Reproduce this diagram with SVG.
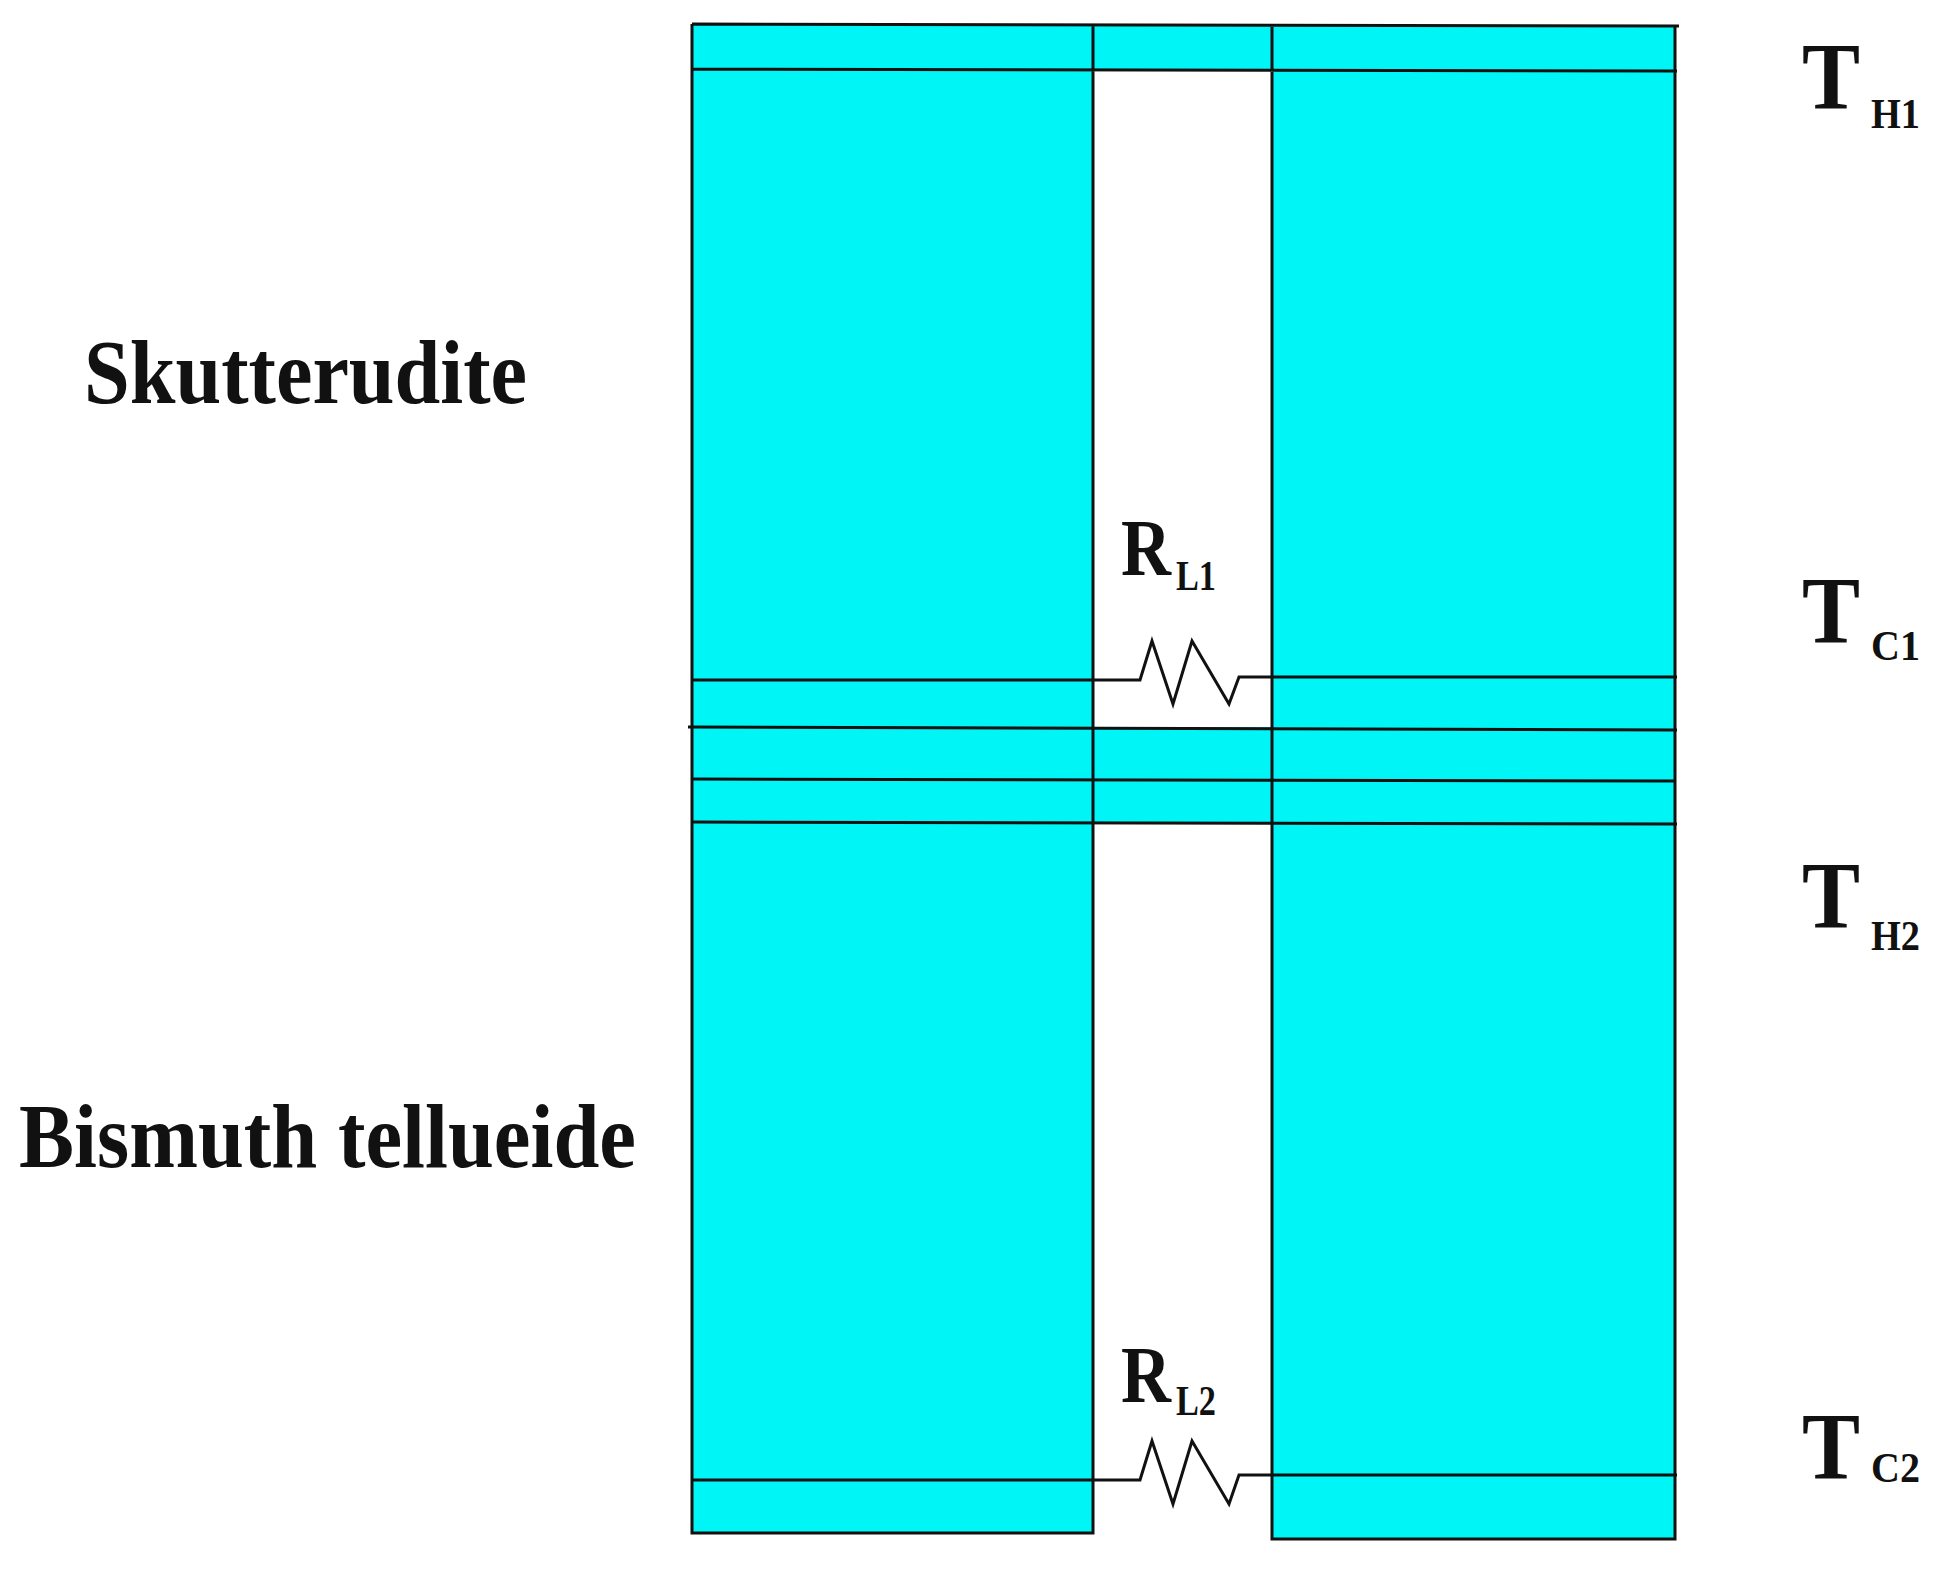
<svg xmlns="http://www.w3.org/2000/svg" width="1946" height="1572" viewBox="0 0 1946 1572">
<style>
.c{fill:#00f6f6;stroke:none}
.l{stroke:#111;stroke-width:3;fill:none}
.t{font-family:"Liberation Serif",serif;font-weight:bold;fill:#111}
</style>
<rect width="1946" height="1572" fill="#fff"/>
<g id="fills">
<rect class="c" x="692" y="25" width="983" height="44"/>
<rect class="c" x="692" y="69" width="401" height="1464"/>
<rect class="c" x="1272" y="69" width="403" height="1470"/>
<rect class="c" x="1093" y="727" width="179" height="95"/>
</g>
<g id="connectors">
<path class="l" d="M692 24 L1679 26 M692 69 L1677 71 M692 24 V1533 H1093 V24 M1272 24 V1539 H1675 V26"/>
<path class="l" d="M692 680 H1093 L1140 680 L1152 641 L1173 704 L1192 641 L1229 704 L1239 677 H1272 H1677"/>
<path class="l" d="M688 727 L1677 730 M692 779 L1675 781 M692 822 L1677 824"/>
<path class="l" d="M692 1480 H1093 L1140 1480 L1152 1441 L1173 1504 L1192 1441 L1229 1504 L1239 1475 H1677"/>
</g>
<g id="labels">
<text class="t" x="84" y="403" font-size="92" textLength="443" lengthAdjust="spacingAndGlyphs">Skutterudite</text>
<text class="t" x="19" y="1167" font-size="92" textLength="617" lengthAdjust="spacingAndGlyphs">Bismuth tellueide</text>
<text class="t" x="1121" y="575" font-size="80" textLength="50" lengthAdjust="spacingAndGlyphs">R</text>
<text class="t" x="1176" y="590" font-size="42" textLength="40" lengthAdjust="spacingAndGlyphs">L1</text>
<text class="t" x="1121" y="1402" font-size="80" textLength="50" lengthAdjust="spacingAndGlyphs">R</text>
<text class="t" x="1176" y="1415" font-size="42" textLength="40" lengthAdjust="spacingAndGlyphs">L2</text>
<text class="t" x="1802" y="109" font-size="96" textLength="58" lengthAdjust="spacingAndGlyphs">T</text>
<text class="t" x="1871" y="128" font-size="42" textLength="49" lengthAdjust="spacingAndGlyphs">H1</text>
<text class="t" x="1802" y="643" font-size="96" textLength="58" lengthAdjust="spacingAndGlyphs">T</text>
<text class="t" x="1871" y="660" font-size="42" textLength="49" lengthAdjust="spacingAndGlyphs">C1</text>
<text class="t" x="1802" y="928" font-size="96" textLength="58" lengthAdjust="spacingAndGlyphs">T</text>
<text class="t" x="1871" y="950" font-size="42" textLength="49" lengthAdjust="spacingAndGlyphs">H2</text>
<text class="t" x="1802" y="1479" font-size="96" textLength="58" lengthAdjust="spacingAndGlyphs">T</text>
<text class="t" x="1871" y="1482" font-size="42" textLength="49" lengthAdjust="spacingAndGlyphs">C2</text>
</g>
</svg>
